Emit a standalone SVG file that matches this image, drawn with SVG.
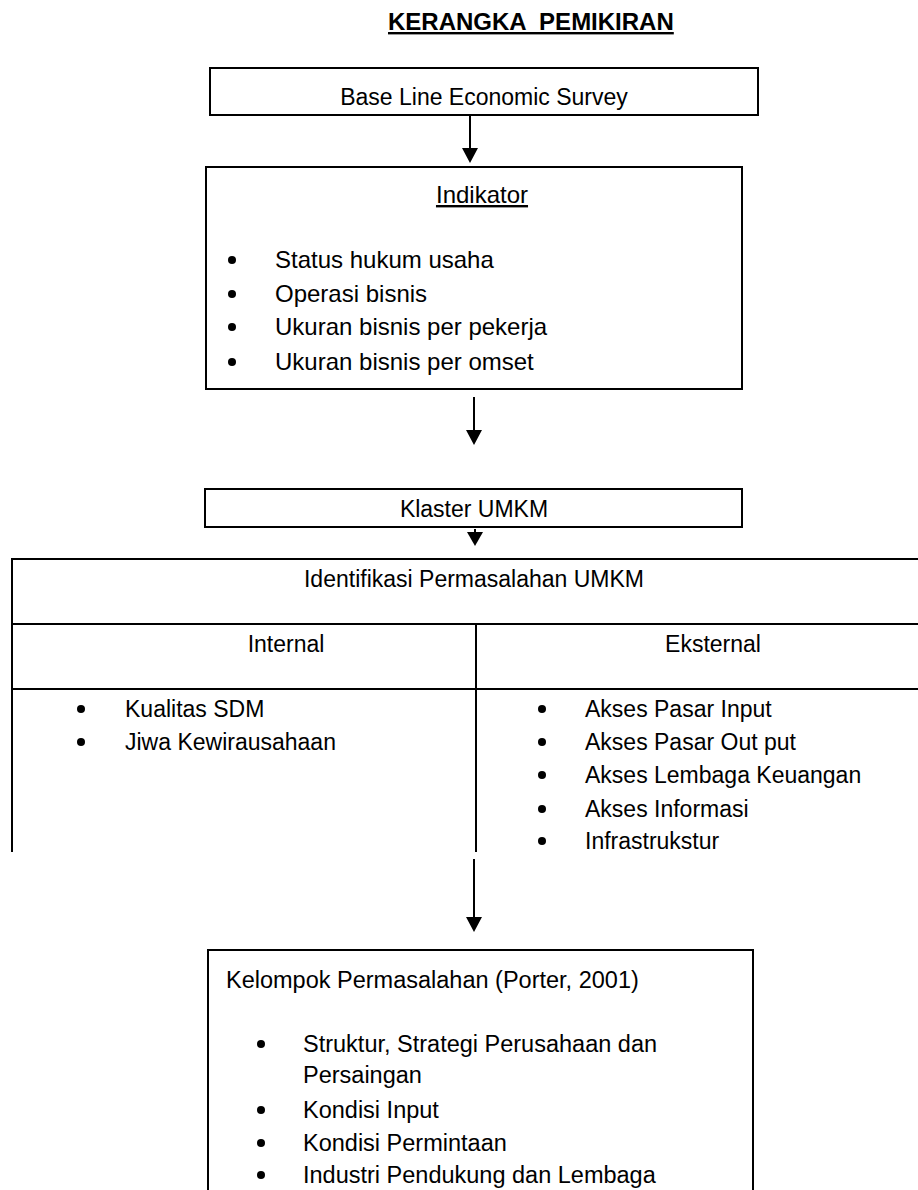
<svg xmlns="http://www.w3.org/2000/svg" width="918" height="1190" viewBox="0 0 918 1190">
<style>
text{font-family:"Liberation Sans",Arial,sans-serif;fill:#000}
.box{fill:none;stroke:#000;stroke-width:2}
.ln{fill:none;stroke:#000;stroke-width:2}
.it{font-size:24px}
.tb{font-size:23px}
.k5{font-size:23.5px}
</style>
<defs>
<clipPath id="tclip"><rect x="0" y="540" width="918" height="312"/></clipPath>
</defs>
<rect width="918" height="1190" fill="#fff"/>

<g id="title">
<text x="388" y="30" font-weight="bold" font-size="24" text-decoration="underline" xml:space="preserve">KERANGKA  PEMIKIRAN</text>
</g>

<g id="connectors">
<path class="ln" d="M470,115 V150"/>
<path d="M462,148 L478,148 L470,163 Z"/>
<path class="ln" d="M474,397 V432"/>
<path d="M466,430 L482,430 L474,445 Z"/>
<path class="ln" d="M475,529 V534"/>
<path d="M467,532 L483,532 L475,546 Z"/>
<path class="ln" d="M474,859 V920"/>
<path d="M466,917 L482,917 L474,932 Z"/>
</g>

<g id="node-baseline">
<rect class="box" x="210" y="68" width="548" height="47"/>
<text class="tb" x="484" y="105" text-anchor="middle">Base Line Economic Survey</text>
</g>

<g id="node-indikator">
<rect class="box" x="206" y="167" width="536" height="222"/>
<text x="482" y="203" text-anchor="middle" font-size="24" text-decoration="underline">Indikator</text>
<circle cx="232" cy="260" r="4"/><text class="it" x="275" y="268">Status hukum usaha</text>
<circle cx="232" cy="294" r="4"/><text class="it" x="275" y="302">Operasi bisnis</text>
<circle cx="232" cy="327" r="4"/><text class="it" x="275" y="335">Ukuran bisnis per pekerja</text>
<circle cx="232" cy="362" r="4"/><text class="it" x="275" y="370">Ukuran bisnis per omset</text>
</g>

<g id="node-klaster">
<rect class="box" x="205" y="489" width="537" height="38"/>
<text class="tb" x="474" y="517" text-anchor="middle">Klaster UMKM</text>
</g>

<g id="node-identifikasi" clip-path="url(#tclip)">
<path class="ln" d="M12,559 H918 M12,624 H918 M12,689 H918 M12,558 V852 M476,624 V852"/>
<text class="tb" x="474" y="587" text-anchor="middle">Identifikasi Permasalahan UMKM</text>
<text class="tb" x="286" y="652" text-anchor="middle">Internal</text>
<text class="tb" x="713" y="652" text-anchor="middle">Eksternal</text>
<circle cx="81" cy="709" r="4"/><text class="tb" x="125" y="717">Kualitas SDM</text>
<circle cx="81" cy="742" r="4"/><text class="tb" x="125" y="750">Jiwa Kewirausahaan</text>
<circle cx="542" cy="709" r="4"/><text class="tb" x="585" y="717">Akses Pasar Input</text>
<circle cx="542" cy="742" r="4"/><text class="tb" x="585" y="750">Akses Pasar Out put</text>
<circle cx="542" cy="775" r="4"/><text class="tb" x="585" y="783">Akses Lembaga Keuangan</text>
<circle cx="542" cy="809" r="4"/><text class="tb" x="585" y="817">Akses Informasi</text>
<circle cx="542" cy="841" r="4"/><text class="tb" x="585" y="849">Infrastrukstur</text>
</g>

<g id="node-kelompok">
<path class="ln" d="M208,1190 V950 H753 V1190"/>
<text class="k5" x="226" y="988">Kelompok Permasalahan (Porter, 2001)</text>
<circle cx="261" cy="1044" r="4"/><text class="k5" x="303" y="1052">Struktur, Strategi Perusahaan dan</text>
<text class="k5" x="303" y="1083">Persaingan</text>
<circle cx="261" cy="1110" r="4"/><text class="k5" x="303" y="1118">Kondisi Input</text>
<circle cx="261" cy="1143" r="4"/><text class="k5" x="303" y="1151">Kondisi Permintaan</text>
<circle cx="261" cy="1175" r="4"/><text class="k5" x="303" y="1183">Industri Pendukung dan Lembaga</text>
</g>
</svg>
